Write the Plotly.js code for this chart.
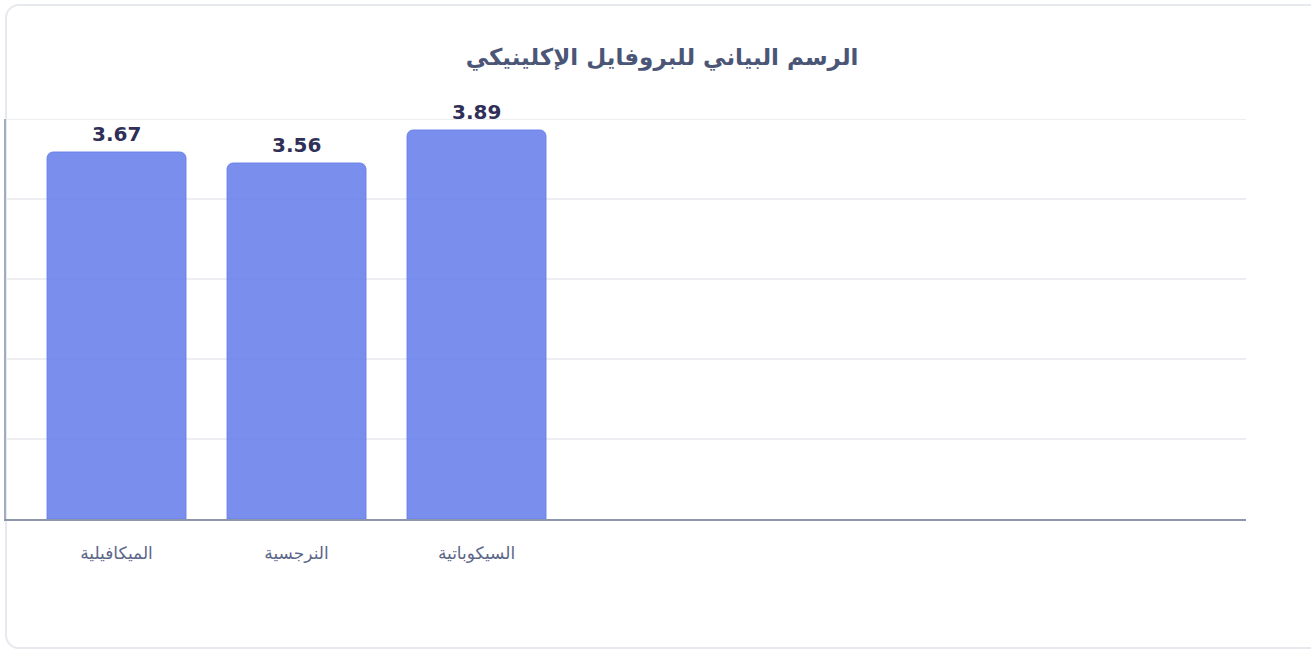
<!DOCTYPE html>
<html>
<head>
<meta charset="utf-8">
<script src="https://cdn.plot.ly/plotly-3.0.1.min.js"></script>
<style>
html,body{margin:0;padding:0;background:#fff;width:1311px;height:649px;overflow:hidden;}
#card{position:absolute;left:5px;top:4px;width:1320px;height:645px;border:2px solid #e6e9ee;border-radius:14px;box-sizing:border-box;background:#fff;}
#chart{position:absolute;left:0;top:0;width:1311px;height:649px;}
</style>
</head>
<body>
<div id="card"></div>
<div id="chart"></div>
<script>
const categories = ["الميكافيلية", "النرجسية", "السيكوباتية"];
const scores = [3.67, 3.56, 3.89];
const chartTitle = "الرسم البياني للبروفايل الإكلينيكي";
const yMax = 4;

const trace = {
  type: 'bar',
  x: categories,
  y: scores,
  width: 0.772,
  marker: {color: 'rgba(102,126,234,0.88)', cornerradius: 6, line: {color: 'rgba(102,126,234,0.9)', width: 1}},
  hoverinfo: 'none'
};

const valueLabels = categories.map((c, i) => ({
  x: c, y: scores[i], xref: 'x', yref: 'y',
  text: '<b>' + scores[i].toFixed(2) + '</b>',
  showarrow: false, yanchor: 'bottom', yshift: 4,
  font: {family: 'DejaVu Sans', size: 20, color: '#2f2f57'}
}));

const layout = {
  width: 1311, height: 649,
  margin: {l: 6, r: 65, t: 119, b: 130},
  paper_bgcolor: 'rgba(0,0,0,0)',
  plot_bgcolor: 'rgba(0,0,0,0)',
  title: {text: '<b>' + chartTitle + '</b>', x: 0.505, xanchor: 'center', y: 0.913, yanchor: 'middle',
          font: {family: 'DejaVu Sans', size: 23, color: '#4b5677'}},
  showlegend: false,
  annotations: valueLabels,
  shapes: [{type: 'line', xref: 'paper', yref: 'y', x0: 0, x1: 1, y0: yMax, y1: yMax,
            line: {color: '#eceef1', width: 2}, layer: 'below'}],
  xaxis: {
    type: 'category',
    range: [-0.614, 6.275],
    showline: true, linecolor: '#8c96aa', linewidth: 2,
    showgrid: false, ticks: '',
    ticklabelstandoff: 18,
    tickfont: {family: 'DejaVu Sans', size: 17, color: '#5b6688'},
    fixedrange: true
  },
  yaxis: {
    range: [0, yMax], dtick: 0.8, tick0: 0,
    showticklabels: false, ticks: '',
    showline: true, linecolor: '#a3acbd', linewidth: 2,
    gridcolor: '#eceef1', gridwidth: 2,
    zeroline: false, fixedrange: true
  },
  bargap: 0.2
};

Plotly.newPlot('chart', [trace], layout, {displayModeBar: false, staticPlot: true});
</script>
</body>
</html>
